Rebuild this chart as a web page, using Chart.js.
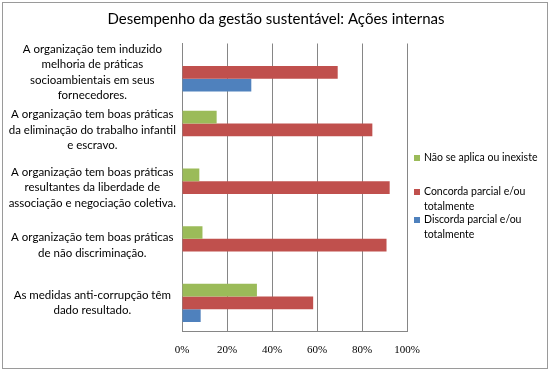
<!DOCTYPE html>
<html>
<head>
<meta charset="utf-8">
<script src="https://cdn.jsdelivr.net/npm/chart.js@4"></script>
<style>
  body { margin: 0; background: #fff; }
  #wrap { width: 550px; height: 370px; }
</style>
</head>
<body>
<div id="wrap"><canvas id="chart" width="550" height="370"></canvas></div>
<script>
// categorias (de cima para baixo)
const categories = [
  ['A organização tem induzido', 'melhoria de práticas', 'socioambientais em seus', 'fornecedores.'],
  ['A organização tem boas práticas', 'da eliminação do trabalho infantil', 'e escravo.'],
  ['A organização tem boas práticas', 'resultantes da liberdade de', 'associação e negociação coletiva.'],
  ['A organização tem boas práticas', 'de não discriminação.'],
  ['As medidas anti-corrupção têm', 'dado resultado.']
];
const naoSeAplica = [0, 15.4, 7.7, 9.1, 33.3];
const concorda = [69.2, 84.6, 92.3, 90.9, 58.3];
const discorda = [30.8, 0, 0, 0, 8.3];
const xTicks = [0, 20, 40, 60, 80, 100];

const chartTitle = 'Desempenho da gestão sustentável: Ações internas';
const seriesNames = [['Não se aplica ou inexiste'], ['Concorda parcial e/ou', 'totalmente'], ['Discorda parcial e/ou', 'totalmente']];
const colors = ['#9BBB59', '#C0504D', '#4F81BD'];
const labelFont = 'Lato';

// moldura, título e legenda desenhados à mão (título centrado na imagem toda, legenda com várias linhas)
const frameAndLegend = {
  id: 'frameAndLegend',
  beforeDraw(chart) {
    const ctx = chart.ctx;
    ctx.save();
    ctx.fillStyle = '#fff';
    ctx.fillRect(0, 0, chart.width, chart.height);
    ctx.strokeStyle = '#9a9a9a';
    ctx.lineWidth = 1;
    ctx.strokeRect(2.5, 2.5, 545, 366);
    ctx.restore();
  },
  afterDraw(chart) {
    const ctx = chart.ctx;
    ctx.save();
    ctx.fillStyle = '#000';
    ctx.textBaseline = 'middle';
    ctx.textAlign = 'center';
    ctx.font = '15px ' + labelFont;
    ctx.fillText(chartTitle, 276, 19);

    const tops = [158, 192, 220];
    ctx.font = '10.5px ' + labelFont;
    ctx.textAlign = 'left';
    seriesNames.forEach((lines, i) => {
      ctx.fillStyle = colors[i];
      ctx.fillRect(414, tops[i] - 3, 6, 6);
      ctx.fillStyle = '#000';
      lines.forEach((t, j) => ctx.fillText(t, 424, tops[i] + j * 15));
    });
    ctx.restore();
  }
};

new Chart(document.getElementById('chart'), {
  type: 'bar',
  data: {
    labels: categories,
    datasets: [
      { label: seriesNames[0].join(' '), data: naoSeAplica, backgroundColor: colors[0] },
      { label: seriesNames[1].join(' '), data: concorda, backgroundColor: colors[1] },
      { label: seriesNames[2].join(' '), data: discorda, backgroundColor: colors[2] }
    ]
  },
  options: {
    indexAxis: 'y',
    responsive: false,
    animation: false,
    layout: { padding: { top: 43.5, right: 143, bottom: 0, left: 0 } },
    datasets: { bar: { barPercentage: 1, categoryPercentage: 0.663 } },
    plugins: {
      legend: { display: false },
      tooltip: { enabled: false },
      title: { display: false }
    },
    scales: {
      x: {
        min: 0,
        max: 100,
        afterBuildTicks(scale) { scale.ticks = xTicks.map(v => ({ value: v })); },
        afterFit(scale) { scale.height = 370 - 331.7; },
        grid: { color: '#868686', drawTicks: false },
        border: { color: '#868686' },
        ticks: {
          color: '#000',
          padding: 12,
          font: { family: 'Liberation Serif', size: 11 },
          callback: v => v + '%'
        }
      },
      y: {
        afterFit(scale) { scale.width = 182; },
        grid: { display: false, drawTicks: false },
        border: { display: true, color: '#868686' },
        ticks: {
          color: '#000',
          autoSkip: false,
          crossAlign: 'center',
          padding: 6,
          font: { family: labelFont, size: 11.5, lineHeight: 1.33 }
        }
      }
    }
  },
  plugins: [frameAndLegend]
});
</script>
</body>
</html>
